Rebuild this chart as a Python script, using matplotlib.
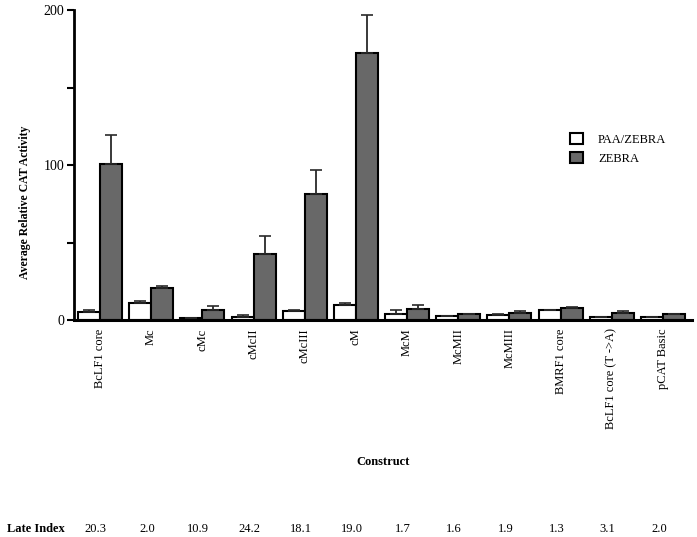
import numpy as np
import matplotlib
matplotlib.use('Agg')
from matplotlib import pyplot as plt

plt.rcParams['font.family'] = ['Liberation Serif', 'DejaVu Serif']

constructs = ['BcLF1 core', 'Mc', 'cMc', 'cMcII', 'cMcIII', 'cM', 'McM', 'McMII',
              'McMIII', 'BMRF1 core', 'BcLF1 core (T ->A)', 'pCAT Basic']
paa = [5.4, 10.7, 1.3, 2.1, 5.6, 9.7, 3.7, 2.6, 3.4, 6.5, 2.1, 2.1]
paa_err = [1.0, 1.7, 0.0, 1.1, 0.6, 1.5, 2.8, 0.0, 0.3, 0.3, 0.0, 0.0]
zebra = [100.6, 20.6, 6.4, 42.8, 81.4, 172.4, 6.9, 3.7, 4.7, 8.0, 4.7, 3.7]
zebra_err = [18.9, 1.3, 2.8, 11.2, 15.4, 24.6, 2.6, 0.2, 1.3, 0.4, 1.3, 0.2]
late_index = ['20.3', '2.0', '10.9', '24.2', '18.1', '19.0', '1.7', '1.6', '1.9', '1.3', '3.1', '2.0']

fig = plt.figure(figsize=(6.97, 5.37), dpi=100)
ax = fig.add_axes([0.106, 0.404, 0.887, 0.577])

x = np.arange(len(constructs))
w = 0.43
zeros = np.zeros(len(x))
ekw = dict(ecolor='#2a2a2a', elinewidth=1.3, capsize=4, capthick=1.2)
ax.bar(x - w / 2, paa, w, color='white', edgecolor='black', linewidth=1.5,
       yerr=[zeros, paa_err], error_kw=ekw, label='PAA/ZEBRA', zorder=2)
ax.bar(x + w / 2, zebra, w, color='#686868', edgecolor='black', linewidth=1.5,
       yerr=[zeros, zebra_err], error_kw=ekw, label='ZEBRA', zorder=2)

ax.set_xlim(-0.51, 11.57)
ax.set_ylim(0, 200)
ax.set_yticks([0, 50, 100, 150, 200])
ax.set_yticklabels(['0', '', '100', '', '200'], fontsize=10)
ax.set_xticks(x)
ax.set_xticklabels(constructs, rotation=90, fontsize=9, va='top')
ax.tick_params(axis='x', length=0, pad=6)
ax.tick_params(axis='y', direction='out', length=5, width=1.5, pad=2)

for s in ['top', 'right']:
    ax.spines[s].set_visible(False)
ax.spines['left'].set_linewidth(2)
ax.spines['bottom'].set_linewidth(2.2)

ax.set_ylabel('Average Relative CAT Activity', fontsize=8.5, fontweight='bold')
ax.yaxis.set_label_coords(-0.07, 0.38)

ax.legend(loc='upper left', bbox_to_anchor=(0.785, 0.64), frameon=False,
          fontsize=9, handlelength=1.0, handleheight=1.0, handletextpad=1.2,
          labelspacing=0.5)

fig.text(0.55, 1 - 462 / 537, 'Construct', ha='center', va='center',
         fontsize=9, fontweight='bold')
fig.text(7 / 697, 1 - 529 / 537, 'Late Index', ha='left', va='center',
         fontsize=9, fontweight='bold')
for i, v in enumerate(late_index):
    ax.annotate(v, xy=(x[i], 0), xycoords=('data', 'axes fraction'),
                xytext=(x[i] - 0.08, 1 - 529 / 537), textcoords=('data', 'figure fraction'),
                ha='center', va='center', fontsize=9)

fig.savefig('out.png', dpi=100)
